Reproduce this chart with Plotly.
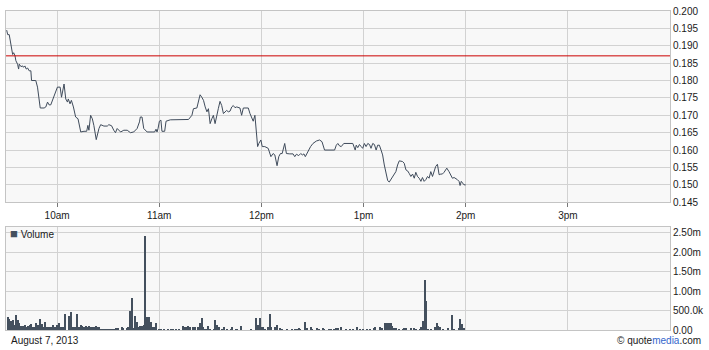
import pandas as pd
import plotly.graph_objects as go

# ---------------- data ----------------
session_date = "2013-08-07"
open_time = "09:30"
close_time = "16:00"
prev_close = 0.1871

# price: minutes after 9:30 and last price
price_minutes = [0.4, 1, 1.9, 2.9, 3.9, 4.5, 5.3, 5.8, 6.8, 7.4, 7.8, 8.8, 9.8, 10.3, 11.1, 11.9, 12.7, 13.6, 14.6, 15,
                 17.5, 18.5, 20.1, 22.4, 23.4, 24.4, 25.3, 26.3, 27.3, 29.2, 30.2, 31.8, 32.6, 34.1, 35.1, 36.1, 36.6, 37.6, 38.4, 39.6,
                 40.9, 42.3, 43.9, 45.8, 47.4, 48.1, 48.7, 49.7, 50.7, 51.6, 53, 54.6, 55.6, 57.5, 59.5, 60.4, 62, 63.3, 64.3, 65.3,
                 67.3, 69.2, 71.2, 73.1, 75, 77, 78.4, 78.9, 79.9, 80.9, 82.9, 85.8, 87.3, 88.1, 88.7, 89.3, 90.1, 91, 91.6, 93.2,
                 94, 96.5, 103.3, 107.2, 109.2, 110.1, 112.1, 113, 114, 115, 116, 117, 118, 118.9, 119.9, 120.9, 121.8, 122.8, 123.8, 124.7,
                 125.7, 126.7, 127.7, 128.7, 129.6, 130.6, 131.6, 132.6, 133.5, 134.5, 135.5, 137.4, 138.4, 139.4, 142.3, 143.3, 144.3, 145.2, 146.2, 146.6,
                 147.2, 147.8, 148.5, 149.7, 150.5, 152, 154, 155.6, 156.9, 157.9, 159.2, 160.2, 161.2, 162.2, 163.7, 164.7, 166.7, 168.6, 169.6, 170.6,
                 171.9, 173.1, 174.1, 175, 175.8, 177.4, 178.9, 180.3, 182.3, 184.2, 185.6, 187.1, 189.1, 193, 194, 194.9, 195.9, 196.9, 198.4, 203.7,
                 205.1, 205.7, 206.6, 207.6, 208.6, 209.5, 210.5, 211.5, 212.5, 213.5, 214.4, 215.4, 216.4, 217.4, 218.3, 219.3, 220.3, 221.2, 222.2, 223.2,
                 224.2, 225.1, 226.1, 227.1, 228.1, 229, 230, 231, 232.9, 233.9, 234.9, 235.9, 236.8, 237.8, 238.8, 239.8, 240.7, 241.7, 242.7, 243.7,
                 244.6, 245.6, 246.6, 247.6, 248.5, 249.5, 250.5, 251.5, 252.4, 253.4, 254.4, 255.4, 256.3, 257.3, 258.9, 260.2, 261.2, 262.2, 263.2, 264.1,
                 265.1, 266.1, 266.7, 267.4, 268, 269, 270]
prices = [0.1945, 0.1932, 0.1932, 0.1904, 0.1875, 0.1880, 0.1871, 0.1857, 0.1847, 0.1833, 0.1847, 0.1840, 0.1842, 0.1838, 0.1842, 0.1833, 0.1836, 0.1828, 0.1828, 0.1800,
          0.1800, 0.1781, 0.1721, 0.1721, 0.1724, 0.1738, 0.1730, 0.1730, 0.1743, 0.1766, 0.1781, 0.1781, 0.1752, 0.1790, 0.1747, 0.1738, 0.1747, 0.1733, 0.1743, 0.1724,
          0.1695, 0.1690, 0.1652, 0.1654, 0.1654, 0.1671, 0.1657, 0.1700, 0.1690, 0.1671, 0.1630, 0.1662, 0.1673, 0.1669, 0.1669, 0.1673, 0.1670, 0.1657, 0.1650, 0.1662,
          0.1652, 0.1657, 0.1657, 0.1650, 0.1652, 0.1662, 0.1681, 0.1695, 0.1695, 0.1662, 0.1652, 0.1652, 0.1652, 0.1660, 0.1652, 0.1662, 0.1683, 0.1686, 0.1654, 0.1654,
          0.1683, 0.1687, 0.1688, 0.1688, 0.1700, 0.1719, 0.1721, 0.1743, 0.1759, 0.1752, 0.1743, 0.1724, 0.1710, 0.1719, 0.1676, 0.1690, 0.1700, 0.1676, 0.1695, 0.1719,
          0.1740, 0.1728, 0.1705, 0.1710, 0.1714, 0.1710, 0.1712, 0.1724, 0.1728, 0.1722, 0.1724, 0.1721, 0.1700, 0.1721, 0.1721, 0.1705, 0.1692, 0.1683, 0.1700, 0.1681,
          0.1647, 0.1610, 0.1619, 0.1629, 0.1610, 0.1610, 0.1605, 0.1581, 0.1590, 0.1586, 0.1555, 0.1581, 0.1590, 0.1590, 0.1619, 0.1590, 0.1589, 0.1589, 0.1581, 0.1588,
          0.1584, 0.1590, 0.1586, 0.1589, 0.1581, 0.1597, 0.1610, 0.1619, 0.1626, 0.1629, 0.1624, 0.1600, 0.1600, 0.1600, 0.1614, 0.1619, 0.1612, 0.1610, 0.1619, 0.1619,
          0.1600, 0.1614, 0.1607, 0.1616, 0.1610, 0.1605, 0.1619, 0.1610, 0.1619, 0.1616, 0.1605, 0.1619, 0.1616, 0.1600, 0.1614, 0.1614, 0.1600, 0.1586, 0.1557, 0.1529,
          0.1512, 0.1508, 0.1515, 0.1524, 0.1529, 0.1538, 0.1557, 0.1569, 0.1567, 0.1562, 0.1543, 0.1540, 0.1533, 0.1524, 0.1531, 0.1519, 0.1536, 0.1524, 0.1519, 0.1510,
          0.1521, 0.1510, 0.1515, 0.1524, 0.1519, 0.1538, 0.1524, 0.1543, 0.1553, 0.1559, 0.1529, 0.1531, 0.1531, 0.1536, 0.1548, 0.1538, 0.1529, 0.1519, 0.1521, 0.1519,
          0.1515, 0.1510, 0.1498, 0.1510, 0.1505, 0.1500, 0.1500]

# volume: minutes after 9:30 and shares (thousands)
vol_minutes = [1, 2, 3, 4, 5, 6, 7, 8, 9, 10, 11, 12, 13, 14, 15, 16, 17, 18, 19, 20,
               21, 22, 23, 24, 25, 26, 27, 28, 29, 30, 31, 32, 33, 34, 35, 37, 38, 39, 40, 41,
               42, 43, 44, 45, 46, 47, 48, 49, 50, 51, 52, 53, 54, 55, 56, 57, 58, 59, 60, 61,
               62, 63, 64, 65, 66, 68, 69, 71, 72, 73, 74, 75, 76, 77, 78, 79, 80, 81, 82, 83,
               84, 85, 86, 87, 88, 90, 91, 93, 95, 97, 98, 100, 102, 104, 105, 106, 107, 108, 110, 111,
               113, 114, 115, 116, 117, 118, 119, 120, 122, 123, 124, 125, 127, 128, 130, 132, 133, 135, 136, 138,
               144, 147, 148, 149, 150, 151, 152, 154, 155, 156, 158, 159, 161, 162, 165, 168, 170, 171, 172, 173,
               176, 177, 179, 180, 183, 184, 186, 187, 190, 191, 193, 194, 195, 197, 200, 202, 204, 206, 208, 210,
               212, 214, 216, 217, 220, 221, 223, 224, 225, 226, 227, 228, 229, 231, 233, 234, 235, 238, 240, 241,
               243, 244, 245, 246, 247, 248, 250, 252, 253, 254, 255, 257, 260, 262, 263, 266, 267, 268, 269]
volumes_k = [340, 272, 238, 255, 128, 383, 255, 170, 102, 102, 128, 68, 102, 128, 153, 85, 85, 170, 128, 289,
             153, 85, 213, 85, 85, 85, 85, 128, 85, 128, 170, 68, 68, 85, 408, 357, 468, 68, 68, 68,
             400, 85, 128, 102, 85, 102, 68, 102, 68, 68, 68, 102, 85, 68, 34, 34, 30, 34, 30, 34,
             30, 34, 34, 43, 43, 68, 43, 43, 68, 493, 825, 43, 357, 213, 68, 102, 102, 128, 2420, 340,
             323, 213, 68, 85, 187, 34, 34, 17, 17, 17, 34, 17, 34, 102, 68, 85, 102, 68, 68, 68,
             85, 170, 298, 85, 34, 34, 102, 34, 34, 255, 128, 85, 34, 68, 34, 34, 68, 34, 34, 102,
             34, 306, 128, 306, 85, 68, 34, 85, 408, 68, 85, 128, 43, 34, 34, 34, 34, 34, 60, 34,
             204, 43, 85, 34, 60, 34, 60, 34, 34, 34, 34, 43, 60, 85, 34, 34, 34, 85, 25, 25,
             25, 25, 43, 68, 85, 43, 187, 187, 187, 170, 102, 43, 60, 34, 34, 60, 43, 43, 51, 34,
             34, 68, 238, 1275, 748, 34, 34, 68, 187, 102, 85, 34, 51, 383, 34, 43, 289, 153, 60]

hour_ticks = ["10:00", "11:00", "12:00", "13:00", "14:00", "15:00"]
hour_labels = ["10am", "11am", "12pm", "1pm", "2pm", "3pm"]
price_ticks = [0.145, 0.150, 0.155, 0.160, 0.165, 0.170, 0.175, 0.180, 0.185, 0.190, 0.195, 0.200]
vol_ticks = [0, 500000, 1000000, 1500000, 2000000, 2500000]
vol_tick_labels = ["0.00", "500.0k", "1.00m", "1.50m", "2.00m", "2.50m"]

assert len(price_minutes) == len(prices)
assert len(vol_minutes) == len(volumes_k)

# ---------------- build ----------------
base = pd.Timestamp(f"{session_date} {open_time}")
px_time = base + pd.to_timedelta(price_minutes, unit="m")
vol_time = base + pd.to_timedelta(vol_minutes, unit="m")
volumes = [v * 1000 for v in volumes_k]
x_range = [pd.Timestamp(f"{session_date} {open_time}"), pd.Timestamp(f"{session_date} {close_time}")]
tick_times = [pd.Timestamp(f"{session_date} {t}") for t in hour_ticks]

FONT = "Liberation Sans, Arial, sans-serif"
LINE_C = "#3f4b5b"
BAR_C = "#44505e"
GRID_C = "#d2d2d2"
BORDER_C = "#c4c4c4"
BG_C = "#f8f8f8"

fig = go.Figure()
fig.add_trace(go.Scatter(x=px_time, y=prices, mode="lines",
                         line=dict(color=LINE_C, width=1), xaxis="x", yaxis="y",
                         showlegend=False, hoverinfo="skip"))
fig.add_trace(go.Bar(x=vol_time, y=volumes, marker=dict(color=BAR_C, line=dict(width=0)),
                     width=60000 * 0.8, xaxis="x2", yaxis="y2", showlegend=False,
                     hoverinfo="skip"))

fig.add_shape(type="line", xref="x domain", yref="y", x0=0, x1=1,
              y0=prev_close, y1=prev_close, line=dict(color="#cc0000", width=1))

common_x = dict(type="date", range=x_range, tickvals=tick_times, showgrid=True,
                gridcolor=GRID_C, gridwidth=1, showline=True, linecolor=BORDER_C,
                linewidth=1, mirror=True, zeroline=False)

fig.update_layout(
    width=709, height=350,
    margin=dict(l=5, r=37, t=8, b=20),
    paper_bgcolor="white", plot_bgcolor=BG_C,
    font=dict(family=FONT, size=10, color="#1a1a1a"),
    bargap=0,
    xaxis=dict(**common_x, anchor="y", ticktext=hour_labels, ticks="outside",
               ticklen=4, tickcolor="#777777", tickfont=dict(size=10)),
    xaxis2=dict(**common_x, anchor="y2", matches="x", showticklabels=False, ticks=""),
    yaxis=dict(domain=[0.4006, 1.0], range=[0.145, 0.200], tickvals=price_ticks,
               tickformat=".3f", side="right", showgrid=True, gridcolor=GRID_C,
               showline=True, linecolor=BORDER_C, mirror=True, zeroline=False,
               ticks="", tickfont=dict(size=10)),
    yaxis2=dict(domain=[0.0, 0.323], range=[0, 2650000], tickvals=vol_ticks,
                ticktext=vol_tick_labels, side="right", showgrid=True, gridcolor=GRID_C,
                showline=True, linecolor=BORDER_C, mirror=True, zeroline=False,
                ticks="", tickfont=dict(size=10)),
)

fig.add_annotation(xref="paper", yref="paper", x=0.003, y=0.301, xanchor="left",
                   yanchor="middle", showarrow=False,
                   text=f'<span style="color:{BAR_C};font-size:13px">■</span> Volume',
                   font=dict(size=10, color="#1a1a1a"))
fig.add_annotation(xref="paper", yref="paper", x=0.004, y=-0.034, xanchor="left",
                   yanchor="middle", showarrow=False, text="August 7, 2013",
                   font=dict(size=10, color="#1a1a1a"))
fig.add_annotation(xref="paper", yref="paper", x=1.0495, y=-0.034, xanchor="right",
                   yanchor="middle", showarrow=False,
                   text='© quote<span style="color:#3366cc">media</span>.com',
                   font=dict(size=10, color="#1a1a1a"))

fig.write_html("out.html")
